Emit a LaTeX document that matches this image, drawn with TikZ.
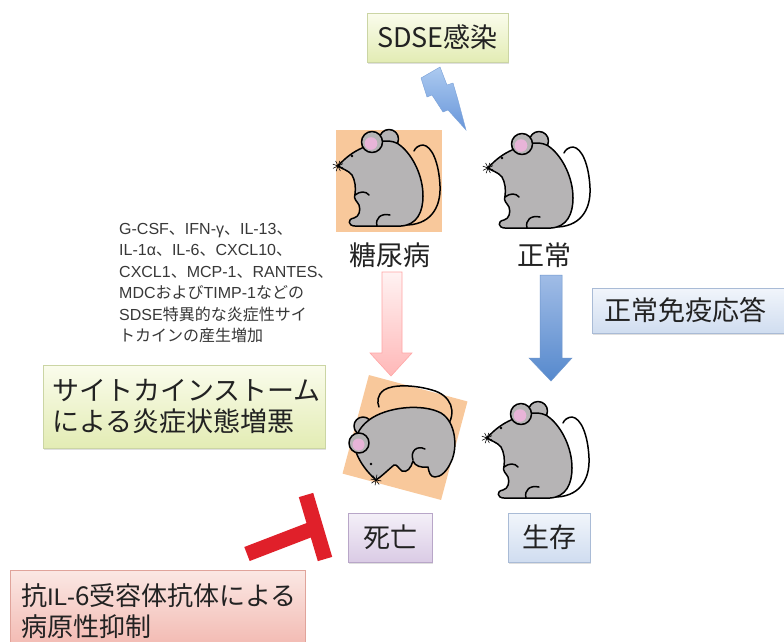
\documentclass[tikz,border=0pt]{standalone}
\usepackage{fontspec}
\setmainfont{Noto Sans CJK JP}
\newfontfamily\latn{Liberation Sans}
\usetikzlibrary{shadows}

\definecolor{mgray}{HTML}{B6B4B5}
\definecolor{mpink}{HTML}{E8B4D8}
\definecolor{peach}{HTML}{F8C89B}
\definecolor{tred}{HTML}{E0202A}
\definecolor{inkc}{HTML}{222222}
\definecolor{grtop}{HTML}{FAFCEC}
\definecolor{grbot}{HTML}{E3ECB4}
\definecolor{grline}{HTML}{CBD5A4}
\definecolor{bltop}{HTML}{F1F5FB}
\definecolor{blbot}{HTML}{D0DDF0}
\definecolor{blline}{HTML}{A9BBD6}
\definecolor{vitop}{HTML}{F4F0F8}
\definecolor{vibot}{HTML}{DACBE5}
\definecolor{viline}{HTML}{B8A6C8}
\definecolor{rdtop}{HTML}{FBE8E4}
\definecolor{rdbot}{HTML}{F2B6AE}
\definecolor{rdline}{HTML}{E0A49B}

\tikzset{
  labelbox/.style={rectangle, line width=0.8pt, inner sep=0pt, text=inkc,
    drop shadow={shadow xshift=1.2pt, shadow yshift=-1.6pt, opacity=0.25}},
  greenbox/.style={labelbox, draw=grline, top color=grtop, bottom color=grbot},
  bluebox/.style={labelbox, draw=blline, top color=bltop, bottom color=blbot},
  violetbox/.style={labelbox, draw=viline, top color=vitop, bottom color=vibot},
  redbox/.style={labelbox, draw=rdline, top color=rdtop, bottom color=rdbot},
  bigtext/.style={font=\fontsize{27}{31}\selectfont},
  outl/.style={line width=1.5pt, line join=round, line cap=round},
  whisk/.style={line width=0.6pt},
  pics/mouse/.style={code={
    % tail
    \draw[outl] (68,97) .. controls (95,98) and (106,80) .. (105,58)
      .. controls (104,35) and (97,18) .. (88,17)
      .. controls (84,17) and (80,20) .. (79,23);
    % ear behind the head
    \draw[outl, fill=mgray] (54,11) circle (9.5);
    % body and head
    \draw[outl, fill=mgray] (3,38) .. controls (10,30) and (18,24) .. (27,20)
      .. controls (40,12) and (58,10) .. (66,18)
      .. controls (78,28) and (88,48) .. (88,68)
      .. controls (88,84) and (82,97) .. (66,98)
      -- (20,98)
      .. controls (13,98) and (12,91) .. (19,90)
      .. controls (24,89) and (26,82) .. (24,77)
      .. controls (22,73) and (18,71) .. (20,66)
      .. controls (21,60) and (20,52) .. (17,47)
      .. controls (13,42) and (7,41) .. (3,38) -- cycle;
    % ear in front
    \draw[outl, fill=mgray] (37,14) circle (10.5);
    \fill[mpink] (36,15.5) circle (6.3);
    % arm and hind leg
    \draw[outl] (20,67) .. controls (25,63) and (31,63) .. (34,67);
    \draw[outl] (42,98) .. controls (40,90) and (46,85) .. (55,87);
    % eye
    \fill (17,28) circle (1.4);
    % whiskers
    \foreach \a in {0,45,...,315} {
      \draw[whisk] (3,38) -- ++(\a+20:5.5);
    }
  }}
}

\begin{document}
\begin{tikzpicture}[x=1pt, y=-1pt]
\clip (0,0) rectangle (784,641);
\fill[white] (0,0) rectangle (784,641);

% infection label and lightning bolt
\node[greenbox, minimum width=141, minimum height=49, bigtext] (sdse) at (437.5,37.5) {SDSE感染};
\shade[top color={rgb,255:red,172;green,202;blue,240}, bottom color={rgb,255:red,104;green,150;blue,218},
       draw={rgb,255:red,120;green,160;blue,215}, line width=0.4pt]
  (421,78) -- (440,67) -- (447,85) -- (453,83) -- (458,100) -- (466,130)
  -- (448,110) -- (443,112) -- (432,95) -- (427,97) -- cycle;

% diabetic and normal mice
\node[fill=peach, minimum width=106, minimum height=102, inner sep=0] (diabg) at (389,181) {};
\pic at (335,128) {mouse};
\pic at (485,130) {mouse};
\node[bigtext, text=inkc] (diab) at (390,255) {糖尿病};
\node[bigtext, text=inkc] (norm) at (544,255) {正常};

% cytokine list
\node[anchor=north west, align=left, inner sep=0, text=inkc!90!white,
      font=\fontsize{16}{21.5}\selectfont] (cyto) at (119,223)
  {{\latn G-CSF}、{\latn IFN-γ}、{\latn IL-13}、\\
   {\latn IL-1α}、{\latn IL-6}、{\latn CXCL10}、\\
   {\latn CXCL1}、{\latn MCP-1}、{\latn RANTES}、\\
   {\latn MDC}および{\latn TIMP-1}などの\\
   {\latn SDSE}特異的な炎症性サイ\\
   トカインの産生増加};

% block arrows
\shade[top color=red!5, bottom color=red!28, draw=red!35!white, line width=0.6pt]
  (382,272) -- (402,272) -- (402,353) -- (412,353) -- (391,376) -- (370,353) -- (382,353) -- cycle;
\shade[top color={rgb,255:red,160;green,188;blue,230}, bottom color={rgb,255:red,86;green,137;blue,205},
       draw={rgb,255:red,110;green,150;blue,205}, line width=0.5pt]
  (540,275) -- (562,275) -- (562,358) -- (572,358) -- (551,381) -- (529,358) -- (540,358) -- cycle;

\node[bluebox, minimum width=208, minimum height=45, text width=184, align=left, bigtext] (immune) at (696,310.5) {正常免疫応答};

% cytokine storm
\node[greenbox, minimum width=282, minimum height=83, text width=264, align=left, bigtext] (storm) at (184,406.5)
  {サイトカインストーム\\による炎症状態増悪};

% dead mouse, lying head-down on a tilted square
\node[fill=peach, minimum size=102, inner sep=0, rotate=-15] (deadbg) at (405,437.5) {};
\draw[outl] (446,428) .. controls (458,412) and (451,395) .. (432,390)
  .. controls (415,385) and (393,384) .. (384,390)
  .. controls (377,395) and (377,402) .. (379,407);
\draw[outl, fill=mgray] (363,426) circle (9);
\draw[outl, fill=mgray] (376,480) .. controls (368,473) and (360,463) .. (356,452)
  .. controls (353,440) and (358,428) .. (369,420)
  .. controls (386,407) and (422,403) .. (441,413)
  .. controls (456,422) and (458,448) .. (451,462)
  .. controls (447,471) and (441,477) .. (435,477)
  .. controls (430,477) and (429,472) .. (428,467)
  .. controls (421,468) and (415,466) .. (413,461)
  .. controls (411,468) and (407,473) .. (402,471)
  .. controls (398,468) and (397,464) .. (394,465)
  .. controls (388,470) and (382,476) .. (376,480) -- cycle;
\draw[outl, fill=mgray] (359,443) circle (10);
\fill[mpink] (358.5,444.5) circle (6);
\draw[outl] (413,460) .. controls (410,451) and (417,445) .. (425,449);
\fill (371,464) circle (1.4);
\foreach \a in {0,45,...,315} {
  \draw[whisk] (376,480) -- ++(\a+10:5.5);
}

% surviving mouse
\pic at (484,400) {mouse};

\node[violetbox, minimum width=84, minimum height=49, bigtext] (death) at (390,537.5) {死亡};
\node[bluebox, minimum width=82, minimum height=49, bigtext] (surv) at (549,537.5) {生存};

% inhibition mark
\coordinate (stemA) at (247,554);
\coordinate (stemB) at (312,529);
\draw[tred, line width=15pt] (stemA) -- (stemB);
\draw[tred, line width=15pt] (306,495) -- (325,559);

% antibody treatment
\node[redbox, minimum width=295, minimum height=82] (ab) at (157.5,611) {};
\node[anchor=west, align=left, inner sep=0, text=inkc, font=\fontsize{26}{31}\selectfont] (abtext) at (21,611)
  {抗{\latn\fontsize{24}{31}\selectfont IL-}6受容体抗体による\\病原性抑制};
\end{tikzpicture}
\end{document}
